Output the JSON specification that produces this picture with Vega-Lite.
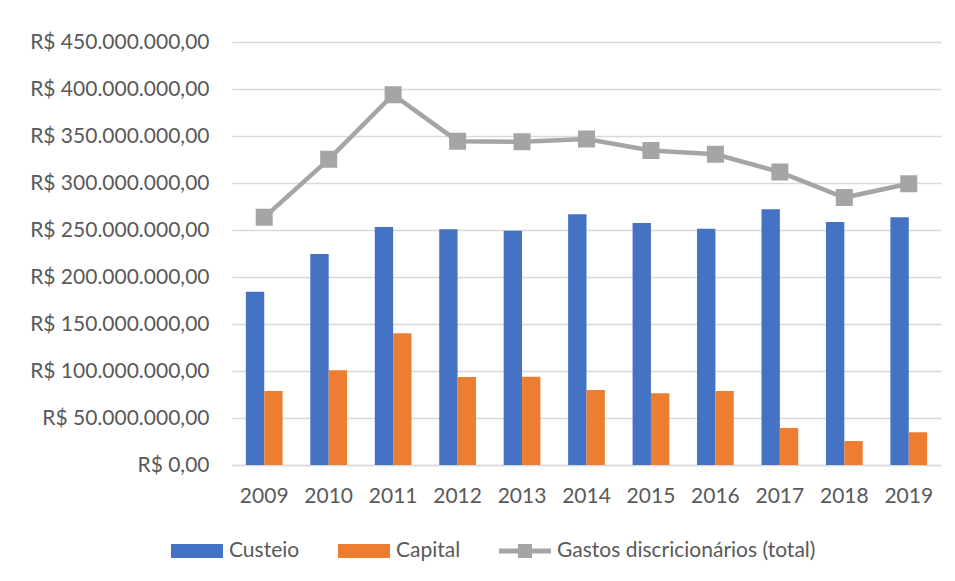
{
  "$schema": "https://vega.github.io/schema/vega-lite/v6.json",
  "width": 709,
  "height": 423,
  "autosize": {"type": "none"},
  "padding": {"left": 232, "top": 42, "right": 14, "bottom": 116},
  "background": "white",
  "config": {
    "locale": {"number": {"decimal": ",", "thousands": ".", "grouping": [3], "currency": ["R$ ", ""]}},
    "font": "Lato",
    "view": {"stroke": null},
    "axis": {"labelFont": "Lato", "labelColor": "#595959", "labelFontSize": 21, "title": null}
  },
  "datasets": {
    "barras": [
      {"ano": "2009", "serie": "Custeio", "valor": 184400000},
      {"ano": "2010", "serie": "Custeio", "valor": 224500000},
      {"ano": "2011", "serie": "Custeio", "valor": 253200000},
      {"ano": "2012", "serie": "Custeio", "valor": 250700000},
      {"ano": "2013", "serie": "Custeio", "valor": 249300000},
      {"ano": "2014", "serie": "Custeio", "valor": 266700000},
      {"ano": "2015", "serie": "Custeio", "valor": 257400000},
      {"ano": "2016", "serie": "Custeio", "valor": 251400000},
      {"ano": "2017", "serie": "Custeio", "valor": 272000000},
      {"ano": "2018", "serie": "Custeio", "valor": 258500000},
      {"ano": "2019", "serie": "Custeio", "valor": 263500000},
      {"ano": "2009", "serie": "Capital", "valor": 78700000},
      {"ano": "2010", "serie": "Capital", "valor": 100700000},
      {"ano": "2011", "serie": "Capital", "valor": 140100000},
      {"ano": "2012", "serie": "Capital", "valor": 93600000},
      {"ano": "2013", "serie": "Capital", "valor": 94000000},
      {"ano": "2014", "serie": "Capital", "valor": 79800000},
      {"ano": "2015", "serie": "Capital", "valor": 76200000},
      {"ano": "2016", "serie": "Capital", "valor": 78700000},
      {"ano": "2017", "serie": "Capital", "valor": 39400000},
      {"ano": "2018", "serie": "Capital", "valor": 25500000},
      {"ano": "2019", "serie": "Capital", "valor": 34800000}
    ],
    "total": [
      {"ano": "2009", "serie": "Gastos discricionários (total)", "valor": 263500000},
      {"ano": "2010", "serie": "Gastos discricionários (total)", "valor": 325200000},
      {"ano": "2011", "serie": "Gastos discricionários (total)", "valor": 394000000},
      {"ano": "2012", "serie": "Gastos discricionários (total)", "valor": 344500000},
      {"ano": "2013", "serie": "Gastos discricionários (total)", "valor": 343800000},
      {"ano": "2014", "serie": "Gastos discricionários (total)", "valor": 346700000},
      {"ano": "2015", "serie": "Gastos discricionários (total)", "valor": 334500000},
      {"ano": "2016", "serie": "Gastos discricionários (total)", "valor": 330600000},
      {"ano": "2017", "serie": "Gastos discricionários (total)", "valor": 311600000},
      {"ano": "2018", "serie": "Gastos discricionários (total)", "valor": 284500000},
      {"ano": "2019", "serie": "Gastos discricionários (total)", "valor": 299200000}
    ]
  },
  "layer": [
    {
      "data": {"name": "barras"},
      "mark": {"type": "bar"},
      "encoding": {
        "x": {
          "field": "ano", "type": "nominal",
          "scale": {"paddingInner": 0.43, "paddingOuter": 0.215},
          "axis": {"labelAngle": 0, "ticks": false, "domainColor": "#d9d9d9", "domainWidth": 1.5, "labelPadding": 20, "grid": false}
        },
        "xOffset": {"field": "serie", "type": "nominal", "sort": ["Custeio", "Capital"]},
        "y": {
          "field": "valor", "type": "quantitative",
          "scale": {"domain": [0, 450000000]},
          "axis": {"values": [0, 50000000, 100000000, 150000000, 200000000, 250000000, 300000000, 350000000, 400000000, 450000000], "format": "$,.2f", "domain": false, "ticks": false, "gridColor": "#d9d9d9", "gridWidth": 1.3, "labelPadding": 23, "labelLimit": 400}
        },
        "color": {
          "field": "serie", "type": "nominal",
          "scale": {"domain": ["Custeio", "Capital"], "range": ["#4472c4", "#ed7d31"]},
          "legend": {"title": null, "orient": "none", "legendX": -61, "legendY": 483, "direction": "horizontal", "symbolType": "M-1,-0.27H1V0.27H-1Z", "symbolSize": 2704, "symbolStrokeWidth": 0, "labelFontSize": 21, "labelFont": "Lato", "labelColor": "#595959", "labelOffset": 6, "columnPadding": 38, "padding": 0}
        }
      }
    },
    {
      "data": {"name": "total"},
      "mark": {"type": "line", "color": "#a5a5a5", "strokeWidth": 4.5, "point": {"shape": "square", "size": 225, "filled": true, "color": "#a5a5a5"}},
      "encoding": {
        "x": {"field": "ano", "type": "nominal"},
        "y": {"field": "valor", "type": "quantitative"},
        "stroke": {
          "field": "serie", "type": "nominal",
          "scale": {"range": ["#a5a5a5"]},
          "legend": {"title": null, "orient": "none", "legendX": 267, "legendY": 483, "symbolType": "M-1,-0.1H1V0.1H-1Z M-0.27,-0.27H0.27V0.27H-0.27Z", "symbolSize": 2704, "labelFontSize": 21, "labelFont": "Lato", "labelColor": "#595959", "labelOffset": 6, "padding": 0, "labelLimit": 400,
            "encode": {"symbols": {"update": {"fill": {"value": "#a5a5a5"}, "stroke": {"value": "transparent"}, "strokeWidth": {"value": 0}}}}}
        }
      }
    }
  ]
}
